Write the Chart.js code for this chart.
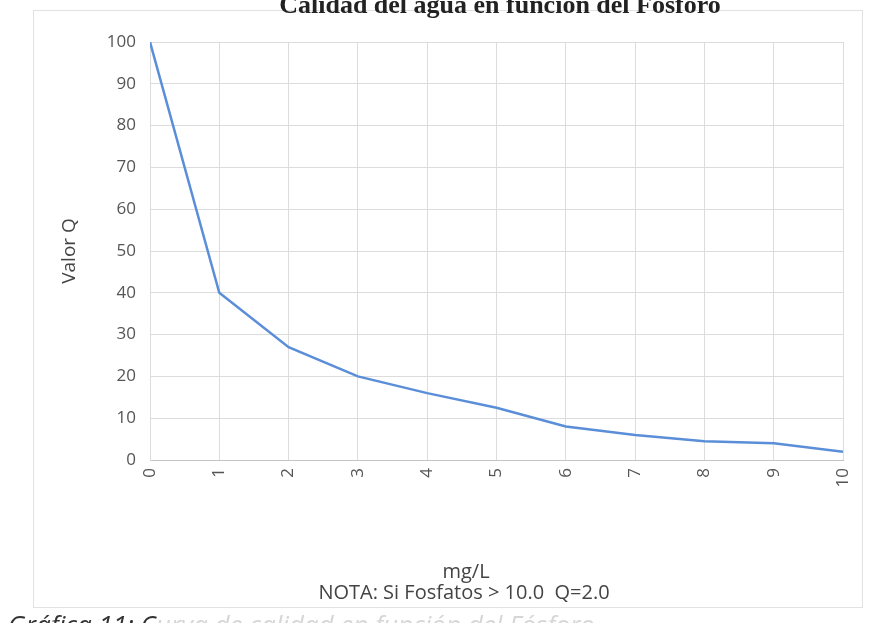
<!DOCTYPE html>
<html>
<head>
<meta charset="utf-8">
<script src="https://cdn.jsdelivr.net/npm/chart.js@4"></script>
<style>
  html, body { margin: 0; padding: 0; background: #fff; }
  #wrap { width: 877px; height: 623px; }
</style>
</head>
<body>
<div id="wrap"><canvas id="qChart" width="877" height="623"></canvas></div>
<script>
// Valor Q vs. fosfatos (mg/L)
const fosfatos = [0, 1, 2, 3, 4, 5, 6, 7, 8, 9, 10];
const valorQ = [100, 40, 27, 20, 16, 12.5, 8, 6, 4.5, 4, 2];
const yTicks = [0, 10, 20, 30, 40, 50, 60, 70, 80, 90, 100];
const chartTitle = "Calidad del agua en función del Fósforo";
const xTitle = ["mg/L", "NOTA: Si Fosfatos > 10.0  Q=2.0"];
const caption = "Gráfica 11: C";
const captionRest = "urva de calidad en función del Fósforo";

const points = fosfatos.map((x, i) => ({ x: x, y: valorQ[i] }));
const sans = "'Open Sans', 'Liberation Sans', sans-serif";

// light frame around the whole chart, like the Excel chart area
const frame = {
  id: "frame",
  beforeDraw(chart) {
    const c = chart.ctx;
    c.save();
    c.fillStyle = "#fff";
    c.fillRect(0, 0, chart.width, chart.height);
    c.strokeStyle = "#e2e2e2";
    c.lineWidth = 1;
    c.strokeRect(33.5, 10.5, 829, 597);
    c.restore();
  }
};

// title cut off by the top edge, x title + note, caption cut off at the bottom
const extraText = {
  id: "extraText",
  afterDraw(chart) {
    const c = chart.ctx;
    c.save();
    c.fillStyle = "#222";
    c.font = "bold 26px 'Liberation Serif', serif";
    c.textAlign = "center";
    c.textBaseline = "alphabetic";
    c.fillText(chartTitle, 500, 13);

    c.fillStyle = "#444";
    c.font = "20px " + sans;
    c.textBaseline = "middle";
    c.fillText(xTitle[0], 466, 572);
    c.fillText(xTitle[1], 464, 593);

    c.textAlign = "left";
    c.textBaseline = "alphabetic";
    c.font = "italic 26px " + sans;
    c.fillStyle = "#333";
    c.fillText(caption, 8, 634);
    const w = c.measureText(caption).width;
    c.fillStyle = "#d6d6d6";
    c.fillText(captionRest, 8 + w, 634);
    c.restore();
  }
};

new Chart(document.getElementById("qChart").getContext("2d"), {
  type: "line",
  data: {
    datasets: [{
      label: "Valor Q",
      data: points,
      borderColor: "#5b8ed8",
      borderWidth: 2.5,
      pointRadius: 0,
      tension: 0,
      fill: false
    }]
  },
  options: {
    responsive: false,
    animation: false,
    layout: { padding: { left: 58, right: 34, top: 42, bottom: 18 } },
    plugins: {
      legend: { display: false },
      tooltip: { enabled: false }
    },
    scales: {
      x: {
        type: "linear",
        min: 0,
        max: 10,
        afterBuildTicks(scale) { scale.ticks = fosfatos.map(v => ({ value: v })); },
        afterFit(scale) { scale.height = 145; },
        grid: { color: "#dcdcdc", drawTicks: false },
        border: { color: "#c4c4c4" },
        ticks: {
          minRotation: 90,
          maxRotation: 90,
          padding: 8,
          color: "#555",
          font: { family: sans, size: 17 }
        }
      },
      y: {
        min: 0,
        max: 100,
        afterBuildTicks(scale) { scale.ticks = yTicks.map(v => ({ value: v })); },
        afterFit(scale) { scale.width = 92; },
        grid: { color: "#dcdcdc", drawTicks: false },
        border: { color: "#dcdcdc" },
        ticks: {
          padding: 14,
          color: "#555",
          font: { family: sans, size: 17 }
        },
        title: {
          display: true,
          text: "Valor Q",
          color: "#444",
          font: { family: sans, size: 19 },
          padding: { top: 0, bottom: 0 }
        }
      }
    }
  },
  plugins: [frame, extraText]
});
</script>
</body>
</html>
